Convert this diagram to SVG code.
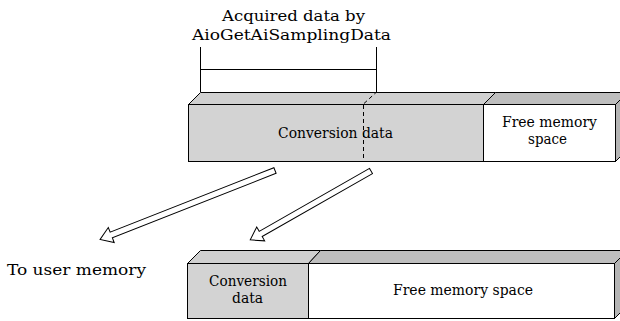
<svg xmlns="http://www.w3.org/2000/svg" width="620" height="321" viewBox="0 0 620 321">
<style>
  .ln { fill: none; stroke: #000; stroke-width: 1; }
  .gray { fill: #d3d3d3; stroke: #000; stroke-width: 1; }
  .white { fill: #fff; stroke: #000; stroke-width: 1; }
  .topg { fill: #d0d0d0; stroke: #000; stroke-width: 1; stroke-linejoin: round; }
  .topd { fill: #bebebe; stroke: #000; stroke-width: 1; stroke-linejoin: round; }
  .side { fill: #b4b4b4; stroke: #000; stroke-width: 1; stroke-linejoin: round; }
  .dash { fill: none; stroke: #000; stroke-width: 1; stroke-dasharray: 4 3; }
  .arrow { fill: #fff; stroke: #000; stroke-width: 1; stroke-linejoin: miter; }
  text { font-family: "DejaVu Serif", "Liberation Serif", serif; font-size: 15px; fill: #000; }
  .sm { font-size: 14px; }
</style>
<defs>
  <path id="arr1" d="M0,-3 L176,-3 L176,-8 L188,0 L176,8 L176,3 L0,3 Z"/>
  <path id="arr2" d="M0,-3 L127,-3 L127,-8 L139,0 L127,8 L127,3 L0,3 Z"/>
</defs>

<g id="label-acquired">
  <text x="222" y="21" textLength="143" lengthAdjust="spacingAndGlyphs">Acquired data by</text>
  <text x="192" y="40" textLength="199" lengthAdjust="spacingAndGlyphs">AioGetAiSamplingData</text>
  <path class="ln" d="M200.5,47 V92 M376.5,47 V92 M200.5,69.5 H376.5"/>
</g>

<g id="buffer-top">
  <polygon class="topg" points="188.5,104.5 200.5,92.5 495.5,92.5 483.5,104.5"/>
  <polygon class="topd" points="483.5,104.5 495.5,92.5 627.5,92.5 615.5,104.5"/>
  <polygon class="side" points="615.5,104.5 627.5,92.5 627.5,149.5 615.5,161.5"/>
  <rect class="gray" x="188.5" y="104.5" width="295" height="57"/>
  <rect class="white" x="483.5" y="104.5" width="132" height="57"/>
  <path class="dash" d="M363.5,105 V161 M364,103.5 L376,92.5"/>
  <text x="278" y="138" textLength="115" lengthAdjust="spacingAndGlyphs">Conversion data</text>
  <text class="sm" x="502" y="127" textLength="95" lengthAdjust="spacingAndGlyphs">Free memory</text>
  <text class="sm" x="528" y="144" textLength="39" lengthAdjust="spacingAndGlyphs">space</text>
</g>

<g id="connectors">
  <use href="#arr1" class="arrow" transform="translate(275,170.5) rotate(158.5)"/>
  <use href="#arr2" class="arrow" transform="translate(371,171) rotate(150.3)"/>
</g>

<g id="label-user">
  <text x="7" y="275" textLength="139" lengthAdjust="spacingAndGlyphs">To user memory</text>
</g>

<g id="buffer-bottom">
  <polygon class="topg" points="187.5,263.5 200.5,250.5 320.5,250.5 308.5,263.5"/>
  <polygon class="topd" points="308.5,263.5 320.5,250.5 627.5,250.5 614.5,263.5"/>
  <polygon class="side" points="614.5,263.5 627.5,250.5 627.5,305.5 614.5,318.5"/>
  <rect class="gray" x="187.5" y="263.5" width="121" height="55"/>
  <rect class="white" x="308.5" y="263.5" width="306" height="55"/>
  <text class="sm" x="209" y="286" textLength="78" lengthAdjust="spacingAndGlyphs">Conversion</text>
  <text class="sm" x="232" y="303" textLength="31" lengthAdjust="spacingAndGlyphs">data</text>
  <text x="393" y="295" textLength="140" lengthAdjust="spacingAndGlyphs">Free memory space</text>
</g>
</svg>
